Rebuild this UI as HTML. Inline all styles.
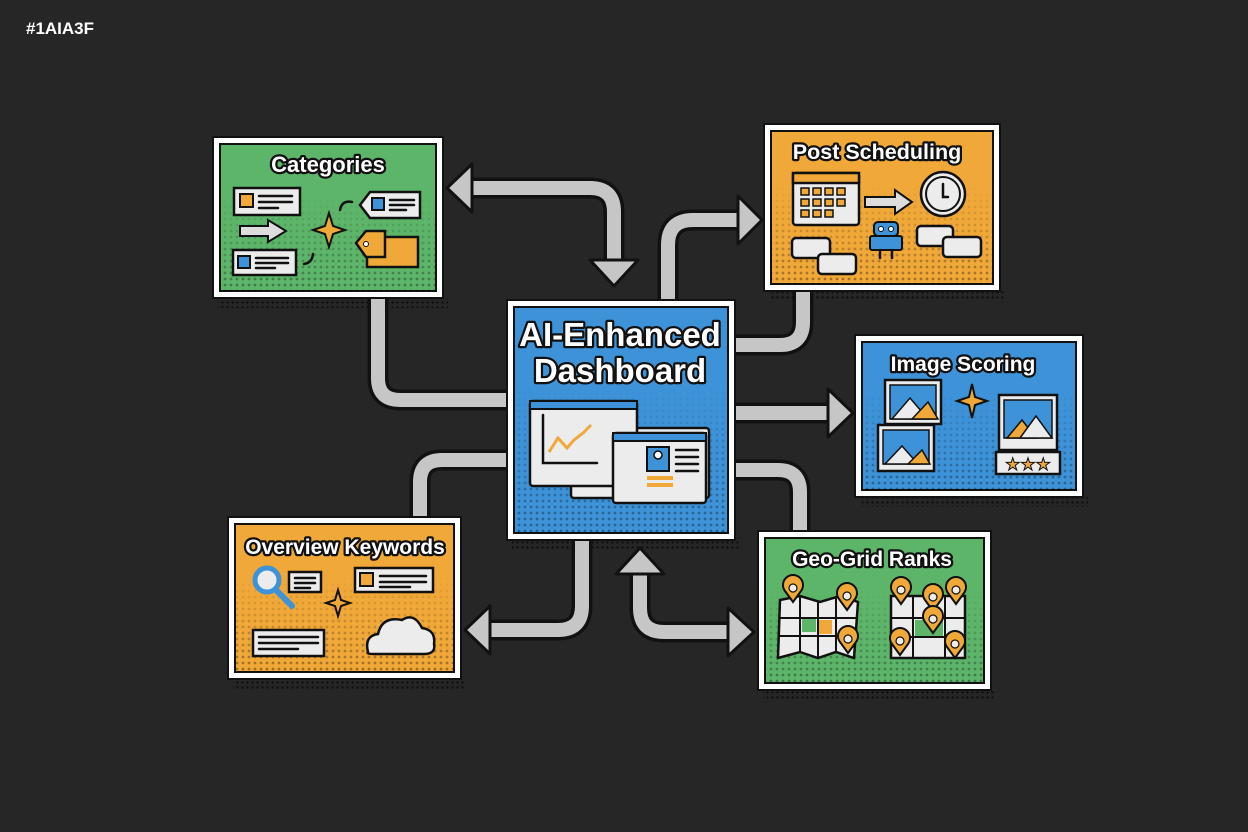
<!DOCTYPE html>
<html><head><meta charset="utf-8"><style>
html,body{margin:0;padding:0;background:#262626;}
svg{display:block;}
.t{font-family:"Liberation Sans",sans-serif;font-weight:bold;fill:#fff;stroke:#111;stroke-width:4.5;paint-order:stroke;stroke-linejoin:round;text-anchor:middle;}
.ol{fill:none;stroke:#111;stroke-width:21;stroke-linejoin:round}
.ln{fill:none;stroke:#c6c6c6;stroke-width:14;stroke-linejoin:round}
.hd{fill:#c6c6c6;stroke:#111;stroke-width:3;stroke-linejoin:round}
.card{fill:#ececec;stroke:#111;stroke-width:2.5}
.k{stroke:#111;stroke-width:2.5;fill:none;stroke-linecap:round}
</style></head><body>
<svg width="1248" height="832" viewBox="0 0 1248 832">
<defs>
<pattern id="dots" width="6" height="6" patternUnits="userSpaceOnUse"><circle cx="3" cy="3" r="1.4" fill="#000" opacity="0.35"/></pattern>
<pattern id="sdots" width="5" height="5" patternUnits="userSpaceOnUse"><circle cx="2.5" cy="2.5" r="1.2" fill="#000" opacity="0.6"/></pattern>
<linearGradient id="fade" x1="0" y1="0" x2="0" y2="1"><stop offset="0.35" stop-color="#fff" stop-opacity="0"/><stop offset="1" stop-color="#fff" stop-opacity="1"/></linearGradient>
<mask id="mb" maskContentUnits="objectBoundingBox"><rect width="1" height="1" fill="url(#fade)"/></mask>
</defs>
<text x="26" y="34" font-family="Liberation Sans,sans-serif" font-weight="bold" font-size="17" fill="#fff">#1AIA3F</text>

<!-- shadows -->
<rect x="218" y="298" width="230" height="10" fill="url(#sdots)"/>
<rect x="769" y="291" width="236" height="10" fill="url(#sdots)"/>
<rect x="512" y="540" width="228" height="10" fill="url(#sdots)"/>
<rect x="860" y="497" width="228" height="10" fill="url(#sdots)"/>
<rect x="233" y="679" width="233" height="10" fill="url(#sdots)"/>
<rect x="763" y="690" width="233" height="10" fill="url(#sdots)"/>

<!-- connectors -->
<g>
<path class="ol" d="M468,188 H590 Q614,188 614,212 V264"/>
<path class="ol" d="M668,300 V245 Q668,220 693,220 H740"/>
<path class="ol" d="M803,291 V322 Q803,345 780,345 H735"/>
<path class="ol" d="M378,298 V378 Q378,400 400,400 H507"/>
<path class="ol" d="M735,413 H830"/>
<path class="ol" d="M735,470 H778 Q800,470 800,492 V531"/>
<path class="ol" d="M507,460 H442 Q420,460 420,482 V517"/>
<path class="ol" d="M582,540 V606 Q582,630 558,630 H488"/>
<path class="ol" d="M640,570 V608 Q640,632 664,632 H730"/>
<path class="ln" d="M468,188 H590 Q614,188 614,212 V264"/>
<path class="ln" d="M668,300 V245 Q668,220 693,220 H740"/>
<path class="ln" d="M803,291 V322 Q803,345 780,345 H735"/>
<path class="ln" d="M378,298 V378 Q378,400 400,400 H507"/>
<path class="ln" d="M735,413 H830"/>
<path class="ln" d="M735,470 H778 Q800,470 800,492 V531"/>
<path class="ln" d="M507,460 H442 Q420,460 420,482 V517"/>
<path class="ln" d="M582,540 V606 Q582,630 558,630 H488"/>
<path class="ln" d="M640,570 V608 Q640,632 664,632 H730"/>
<polygon class="hd" points="447,188 472,164 472,212"/>
<polygon class="hd" points="614,286 590,260 638,260"/>
<polygon class="hd" points="762,220 738,196 738,244"/>
<polygon class="hd" points="853,413 828,389 828,437"/>
<polygon class="hd" points="465,630 490,606 490,654"/>
<polygon class="hd" points="640,548 616,574 664,574"/>
<polygon class="hd" points="754,632 728,608 728,656"/>
</g>

<g id="boxes">
<rect x="213" y="137" width="230" height="161" fill="#fff" stroke="#111" stroke-width="2"/>
<rect x="220" y="144" width="216" height="147" fill="#5db56a" stroke="#111" stroke-width="2"/>
<rect x="220" y="144" width="216" height="147" fill="url(#dots)" mask="url(#mb)"/>
<rect x="764" y="124" width="236" height="167" fill="#fff" stroke="#111" stroke-width="2"/>
<rect x="771" y="131" width="222" height="153" fill="#f0a838" stroke="#111" stroke-width="2"/>
<rect x="771" y="131" width="222" height="153" fill="url(#dots)" mask="url(#mb)"/>
<rect x="507" y="300" width="228" height="240" fill="#fff" stroke="#111" stroke-width="2"/>
<rect x="514" y="307" width="214" height="226" fill="#3d92d8" stroke="#111" stroke-width="2"/>
<rect x="514" y="307" width="214" height="226" fill="url(#dots)" mask="url(#mb)"/>
<rect x="855" y="335" width="228" height="162" fill="#fff" stroke="#111" stroke-width="2"/>
<rect x="862" y="342" width="214" height="148" fill="#3d92d8" stroke="#111" stroke-width="2"/>
<rect x="862" y="342" width="214" height="148" fill="url(#dots)" mask="url(#mb)"/>
<rect x="228" y="517" width="233" height="162" fill="#fff" stroke="#111" stroke-width="2"/>
<rect x="235" y="524" width="219" height="148" fill="#f0a838" stroke="#111" stroke-width="2"/>
<rect x="235" y="524" width="219" height="148" fill="url(#dots)" mask="url(#mb)"/>
<rect x="758" y="531" width="233" height="159" fill="#fff" stroke="#111" stroke-width="2"/>
<rect x="765" y="538" width="219" height="145" fill="#5db56a" stroke="#111" stroke-width="2"/>
<rect x="765" y="538" width="219" height="145" fill="url(#dots)" mask="url(#mb)"/>
</g>

<!-- titles -->
<text class="t" x="328" y="172" font-size="22">Categories</text>
<text class="t" x="877" y="159" font-size="21.5">Post Scheduling</text>
<text class="t" x="620" y="346" font-size="33" stroke-width="6">AI-Enhanced</text>
<text class="t" x="620" y="382" font-size="33" stroke-width="6">Dashboard</text>
<text class="t" x="963" y="371" font-size="21">Image Scoring</text>
<text class="t" x="345" y="554" font-size="21">Overview Keywords</text>
<text class="t" x="872" y="566" font-size="21">Geo-Grid Ranks</text>

<!-- Categories icons -->
<rect class="card" x="234" y="188" width="66" height="27"/><rect x="240" y="194" width="13" height="13" fill="#f0a838" stroke="#111" stroke-width="2"/>
<path class="k" d="M259,196 H292 M259,202 H292 M259,208 H278"/>
<polygon points="240,226 268,226 268,220 286,231 268,242 268,236 240,236" fill="#ddd" stroke="#111" stroke-width="2"/>
<rect class="card" x="233" y="250" width="63" height="25"/><rect x="238" y="256" width="12" height="12" fill="#3d92d8" stroke="#111" stroke-width="2"/>
<path class="k" d="M256,258 H288 M256,263 H288 M256,268 H275"/>
<polygon points="360,205 370,192 420,192 420,218 370,218" fill="#ececec" stroke="#111" stroke-width="2.5"/><rect x="372" y="198" width="12" height="12" fill="#3d92d8" stroke="#111" stroke-width="2"/>
<path class="k" d="M390,200 H414 M390,205 H414 M390,210 H406"/>
<rect x="367" y="237" width="51" height="30" fill="#f0a838" stroke="#111" stroke-width="2.5"/>
<polygon points="356,243 366,231 385,231 385,257 366,257" fill="#f0a838" stroke="#111" stroke-width="2.5"/><circle cx="366" cy="244" r="2.5" fill="#fff" stroke="#111"/>
<path d="M329,213 L333,226 L345,230 L333,234 L329,247 L325,234 L313,230 L325,226 Z" fill="#f0a838" stroke="#111" stroke-width="2"/>
<path class="k" d="M340,210 Q342,200 352,202 M313,254 Q312,263 304,264"/>

<!-- Post icons -->
<rect class="card" x="793" y="173" width="66" height="52" rx="3"/><rect x="793" y="173" width="66" height="10" fill="#f0a838" stroke="#111" stroke-width="2.5"/>
<g fill="#f0a838" stroke="#111" stroke-width="1.5">
<rect x="801" y="188" width="8" height="7"/><rect x="813" y="188" width="8" height="7"/><rect x="825" y="188" width="8" height="7"/><rect x="837" y="188" width="8" height="7"/>
<rect x="801" y="199" width="8" height="7"/><rect x="813" y="199" width="8" height="7"/><rect x="825" y="199" width="8" height="7"/><rect x="837" y="199" width="8" height="7"/>
<rect x="801" y="210" width="8" height="7"/><rect x="813" y="210" width="8" height="7"/><rect x="825" y="210" width="8" height="7"/></g>
<polygon points="865,197 895,197 895,190 912,202 895,214 895,207 865,207" fill="#ddd" stroke="#111" stroke-width="2"/>
<circle cx="943" cy="194" r="22" fill="#ececec" stroke="#111" stroke-width="2.5"/><circle cx="943" cy="194" r="17" fill="none" stroke="#111" stroke-width="2"/><path class="k" d="M943,184 V197 H948"/>
<rect x="874" y="222" width="24" height="14" rx="4" fill="#3d92d8" stroke="#111" stroke-width="2"/>
<circle cx="881" cy="229" r="2.5" fill="#fff" stroke="#111" stroke-width="1"/><circle cx="891" cy="229" r="2.5" fill="#fff" stroke="#111" stroke-width="1"/>
<rect x="870" y="236" width="32" height="14" rx="2" fill="#3d92d8" stroke="#111" stroke-width="2"/><path class="k" d="M880,250 V258 M892,250 V258"/>
<rect class="card" x="792" y="238" width="38" height="20" rx="4"/><rect class="card" x="818" y="254" width="38" height="20" rx="4"/>
<rect class="card" x="917" y="226" width="36" height="20" rx="4"/><rect class="card" x="943" y="237" width="38" height="20" rx="4"/>

<!-- Dashboard icons -->
<rect class="card" x="571" y="428" width="138" height="70" rx="3"/>
<rect class="card" x="530" y="401" width="107" height="85" rx="3"/><rect x="530" y="401" width="107" height="8" fill="#3d92d8" stroke="#111" stroke-width="2"/>
<path class="k" d="M543,415 V463 H597"/>
<polyline points="549,452 558,438 567,448 574,440 583,433 591,425" fill="none" stroke="#f0a838" stroke-width="3"/>
<rect class="card" x="613" y="433" width="93" height="70" rx="3"/><rect x="613" y="433" width="93" height="8" fill="#3d92d8" stroke="#111" stroke-width="2"/>
<rect x="647" y="447" width="22" height="24" fill="#3d92d8" stroke="#111" stroke-width="2"/><circle cx="658" cy="455" r="4" fill="#fff" stroke="#111" stroke-width="1.5"/>
<path class="k" d="M676,450 H698 M676,457 H698 M676,464 H698 M676,471 H698"/>
<rect x="647" y="476" width="26" height="4" fill="#f0a838"/><rect x="647" y="483" width="26" height="4" fill="#f0a838"/>

<!-- Image scoring icons -->
<rect class="card" x="885" y="380" width="56" height="44"/><rect x="890" y="385" width="46" height="34" fill="#3d92d8" stroke="#111" stroke-width="1.5"/>
<polygon points="892,419 910,398 928,419" fill="#ececec" stroke="#111" stroke-width="1.5"/><polygon points="912,419 928,402 938,419" fill="#f0a838" stroke="#111" stroke-width="1.5"/>
<rect class="card" x="878" y="425" width="56" height="46"/><rect x="883" y="430" width="46" height="34" fill="#3d92d8" stroke="#111" stroke-width="1.5"/>
<polygon points="885,464 902,446 918,464" fill="#ececec" stroke="#111" stroke-width="1.5"/><polygon points="908,464 922,450 930,464" fill="#f0a838" stroke="#111" stroke-width="1.5"/>
<path d="M972,384 L975,397 L987,401 L975,405 L972,418 L969,405 L957,401 L969,397 Z" fill="#f0a838" stroke="#111" stroke-width="2"/>
<rect class="card" x="999" y="395" width="58" height="55"/><rect x="1004" y="400" width="48" height="38" fill="#3d92d8" stroke="#111" stroke-width="1.5"/>
<polygon points="1007,438 1022,420 1036,438" fill="#f0a838" stroke="#111" stroke-width="1.5"/><polygon points="1020,438 1036,416 1052,438" fill="#ececec" stroke="#111" stroke-width="1.5"/>
<rect class="card" x="996" y="452" width="64" height="22"/>
<text x="1028" y="470" font-size="17" fill="#f0a838" stroke="#111" stroke-width="1" text-anchor="middle" font-family="DejaVu Sans,sans-serif">★★★</text>

<!-- Overview icons -->
<circle cx="267" cy="580" r="12" fill="#ececec" stroke="#3d92d8" stroke-width="5"/><path d="M276,590 L292,606" stroke="#3d92d8" stroke-width="6" stroke-linecap="round"/>
<rect class="card" x="289" y="572" width="32" height="20"/><path class="k" d="M295,578 H315 M295,583 H315 M295,588 H310"/>
<rect class="card" x="355" y="568" width="78" height="24"/><rect x="360" y="573" width="13" height="13" fill="#f0a838" stroke="#111" stroke-width="2"/><path class="k" d="M380,576 H426 M380,582 H426 M380,587 H410"/>
<path d="M338,590 L341,600 L350,603 L341,606 L338,616 L335,606 L326,603 L335,600 Z" fill="#f0a838" stroke="#111" stroke-width="2"/>
<rect class="card" x="253" y="630" width="71" height="26"/><path class="k" d="M259,637 H318 M259,643 H318 M259,649 H298"/>
<path d="M368,652 Q364,636 378,634 Q382,616 402,620 Q414,612 422,628 Q436,630 434,644 Q436,654 424,654 H374 Q366,654 368,652 Z" fill="#ececec" stroke="#111" stroke-width="2.5"/>

<!-- Geo icons -->
<polygon points="780,600 800,596 820,602 840,596 858,602 854,658 836,652 818,658 800,652 778,658" fill="#ececec" stroke="#111" stroke-width="2.5"/>
<rect x="802" y="618" width="14" height="14" fill="#5db56a"/><rect x="818" y="620" width="14" height="14" fill="#f0a838"/>
<path d="M780,618 H856 M779,636 H855 M800,596 V652 M818,602 V658 M836,596 V652" stroke="#111" stroke-width="2" fill="none"/>
<rect x="891" y="596" width="74" height="62" fill="#ececec" stroke="#111" stroke-width="2.5"/>
<rect x="915" y="620" width="28" height="16" fill="#5db56a"/>
<path d="M891,618 H965 M891,637 H965 M913,596 V658 M945,596 V658" stroke="#111" stroke-width="2" fill="none"/>
<g fill="#f0a838" stroke="#111" stroke-width="2">
<path d="M793,602 L785,591 A10,10 0 1,1 801,591 Z"/>
<path d="M847,610 L839,599 A10,10 0 1,1 855,599 Z"/>
<path d="M848,653 L840,642 A10,10 0 1,1 856,642 Z"/>
<path d="M901,604 L893,593 A10,10 0 1,1 909,593 Z"/>
<path d="M933,611 L925,600 A10,10 0 1,1 941,600 Z"/>
<path d="M956,604 L948,593 A10,10 0 1,1 964,593 Z"/>
<path d="M933,633 L925,622 A10,10 0 1,1 941,622 Z"/>
<path d="M900,655 L892,644 A10,10 0 1,1 908,644 Z"/>
<path d="M955,658 L947,647 A10,10 0 1,1 963,647 Z"/>
</g>
<g fill="#ececec" stroke="#111" stroke-width="1.2">
<circle cx="793" cy="588" r="4"/><circle cx="847" cy="596" r="4"/><circle cx="848" cy="639" r="4"/><circle cx="901" cy="590" r="4"/><circle cx="933" cy="597" r="4"/><circle cx="956" cy="590" r="4"/><circle cx="933" cy="619" r="4"/><circle cx="900" cy="641" r="4"/><circle cx="955" cy="644" r="4"/>
</g>
</svg>
</body></html>
